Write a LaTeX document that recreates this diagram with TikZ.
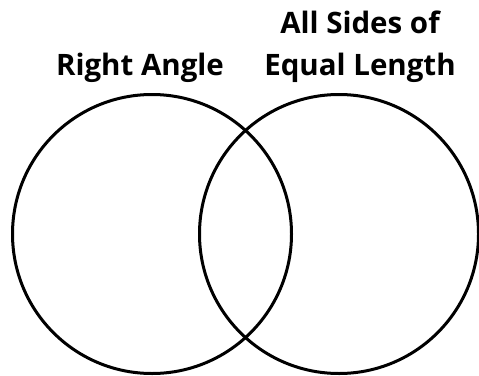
\documentclass[tikz,border=0pt]{standalone}
\usepackage{fontspec}
\setmainfont{Open Sans}
\usepackage{tikz}
\usetikzlibrary{positioning}

\begin{document}
\begin{tikzpicture}[
  x=1pt, y=-1pt,
  setcircle/.style={draw, circle, line width=3pt, minimum size=279pt, inner sep=0pt},
  setlabel/.style={font=\fontsize{29.5}{42}\selectfont\bfseries, align=center, inner sep=0pt}
]
  \useasboundingbox (0,0) rectangle (479,375);

  % Sets
  \node[setcircle] (rightangle) at (152,234) {};
  \node[setcircle] (equalsides) at (339,234) {};

  % Labels
  \node[setlabel, anchor=base] (labelleft) at (140,75) {Right Angle};
  \node[setlabel, anchor=base] (labelright) at (360,75) {All Sides of\\Equal Length};
\end{tikzpicture}
\end{document}
